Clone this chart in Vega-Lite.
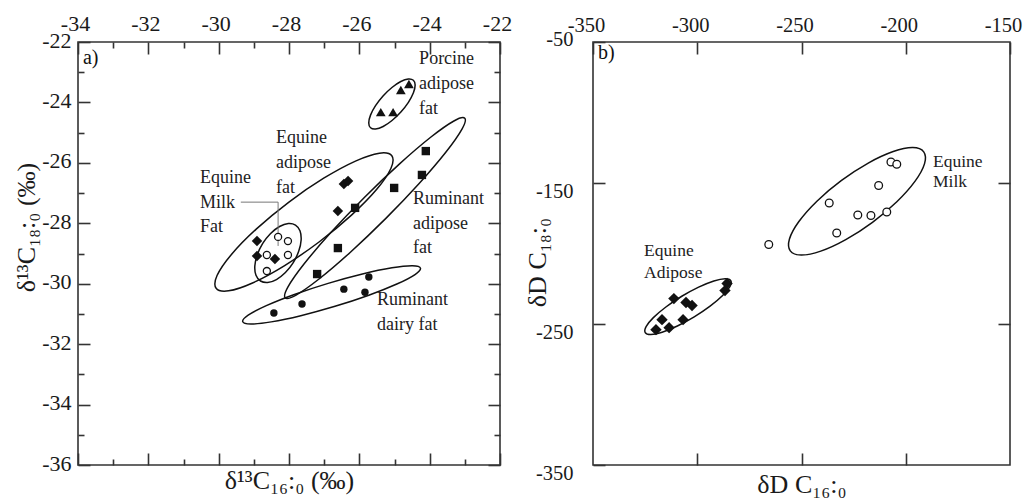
{
  "$schema": "https://vega.github.io/schema/vega-lite/v6.json",
  "padding": {"left": 12, "top": 11, "right": 5, "bottom": 5},
  "background": "white",
  "spacing": 93,
  "bounds": "flush",
  "config": {
    "view": {"stroke": "#333", "strokeWidth": 1.6},
    "axis": {"domain": false, "grid": false, "labelFont": "Liberation Serif", "titleFont": "Liberation Serif", "labelColor": "#1a1a1a", "titleColor": "#1a1a1a", "tickColor": "#333", "tickWidth": 1.6, "titleFontWeight": "normal", "labelFontSize": 22, "titleFontSize": 26, "labelFlush": false, "labelOverlap": false, "labelBound": false},
    "text": {"font": "Liberation Serif"}
  },
  "datasets": {
    "a_pts": [
      {"g": "Porcine", "x": -25.39, "y": -24.32}, {"g": "Porcine", "x": -25.04, "y": -24.32}, {"g": "Porcine", "x": -24.82, "y": -23.59}, {"g": "Porcine", "x": -24.59, "y": -23.39},
      {"g": "Equine adipose", "x": -26.44, "y": -26.70}, {"g": "Equine adipose", "x": -26.32, "y": -26.60}, {"g": "Equine adipose", "x": -26.61, "y": -27.59}, {"g": "Equine adipose", "x": -28.91, "y": -28.59}, {"g": "Equine adipose", "x": -28.91, "y": -29.08}, {"g": "Equine adipose", "x": -28.40, "y": -29.18},
      {"g": "Equine milk", "x": -28.31, "y": -28.45}, {"g": "Equine milk", "x": -28.03, "y": -28.59}, {"g": "Equine milk", "x": -28.63, "y": -29.05}, {"g": "Equine milk", "x": -28.03, "y": -29.05}, {"g": "Equine milk", "x": -28.63, "y": -29.58},
      {"g": "Ruminant adipose", "x": -26.12, "y": -27.49}, {"g": "Ruminant adipose", "x": -26.61, "y": -28.82}, {"g": "Ruminant adipose", "x": -27.20, "y": -29.68}, {"g": "Ruminant adipose", "x": -25.01, "y": -26.83}, {"g": "Ruminant adipose", "x": -24.22, "y": -26.40}, {"g": "Ruminant adipose", "x": -24.11, "y": -25.61},
      {"g": "Ruminant dairy", "x": -25.73, "y": -29.78}, {"g": "Ruminant dairy", "x": -26.44, "y": -30.18}, {"g": "Ruminant dairy", "x": -25.84, "y": -30.28}, {"g": "Ruminant dairy", "x": -27.63, "y": -30.67}, {"g": "Ruminant dairy", "x": -28.43, "y": -30.97}
    ],
    "a_ell": [
      {"e": "P", "i": 0, "x": -24.463, "y": -23.265}, {"e": "P", "i": 1, "x": -24.413, "y": -23.426}, {"e": "P", "i": 2, "x": -24.462, "y": -23.683}, {"e": "P", "i": 3, "x": -24.605, "y": -23.996},
      {"e": "P", "i": 4, "x": -24.819, "y": -24.318}, {"e": "P", "i": 5, "x": -25.071, "y": -24.599}, {"e": "P", "i": 6, "x": -25.323, "y": -24.797}, {"e": "P", "i": 7, "x": -25.538, "y": -24.881},
      {"e": "P", "i": 8, "x": -25.681, "y": -24.839}, {"e": "P", "i": 9, "x": -25.732, "y": -24.678}, {"e": "P", "i": 10, "x": -25.682, "y": -24.421}, {"e": "P", "i": 11, "x": -25.539, "y": -24.108},
      {"e": "P", "i": 12, "x": -25.326, "y": -23.786}, {"e": "P", "i": 13, "x": -25.073, "y": -23.505}, {"e": "P", "i": 14, "x": -24.821, "y": -23.307}, {"e": "P", "i": 15, "x": -24.607, "y": -23.223},
      {"e": "EA", "i": 0, "x": -25.076, "y": -25.767}, {"e": "EA", "i": 1, "x": -25.103, "y": -26.186}, {"e": "EA", "i": 2, "x": -25.505, "y": -26.876}, {"e": "EA", "i": 3, "x": -26.223, "y": -27.730},
      {"e": "EA", "i": 4, "x": -27.146, "y": -28.619}, {"e": "EA", "i": 5, "x": -28.135, "y": -29.407}, {"e": "EA", "i": 6, "x": -29.038, "y": -29.975}, {"e": "EA", "i": 7, "x": -29.718, "y": -30.235},
      {"e": "EA", "i": 8, "x": -30.072, "y": -30.149}, {"e": "EA", "i": 9, "x": -30.046, "y": -29.730}, {"e": "EA", "i": 10, "x": -29.643, "y": -29.040}, {"e": "EA", "i": 11, "x": -28.925, "y": -28.186},
      {"e": "EA", "i": 12, "x": -28.002, "y": -27.297}, {"e": "EA", "i": 13, "x": -27.013, "y": -26.509}, {"e": "EA", "i": 14, "x": -26.110, "y": -25.941}, {"e": "EA", "i": 15, "x": -25.430, "y": -25.681},
      {"e": "EM", "i": 0, "x": -27.816, "y": -28.058}, {"e": "EM", "i": 1, "x": -27.688, "y": -28.249}, {"e": "EM", "i": 2, "x": -27.655, "y": -28.552}, {"e": "EM", "i": 3, "x": -27.722, "y": -28.921},
      {"e": "EM", "i": 4, "x": -27.879, "y": -29.300}, {"e": "EM", "i": 5, "x": -28.102, "y": -29.630}, {"e": "EM", "i": 6, "x": -28.358, "y": -29.862}, {"e": "EM", "i": 7, "x": -28.606, "y": -29.961},
      {"e": "EM", "i": 8, "x": -28.810, "y": -29.910}, {"e": "EM", "i": 9, "x": -28.939, "y": -29.719}, {"e": "EM", "i": 10, "x": -28.972, "y": -29.416}, {"e": "EM", "i": 11, "x": -28.904, "y": -29.047},
      {"e": "EM", "i": 12, "x": -28.747, "y": -28.668}, {"e": "EM", "i": 13, "x": -28.524, "y": -28.338}, {"e": "EM", "i": 14, "x": -28.268, "y": -28.106}, {"e": "EM", "i": 15, "x": -28.020, "y": -28.007},
      {"e": "RA", "i": 0, "x": -23.002, "y": -24.523}, {"e": "RA", "i": 1, "x": -23.081, "y": -24.883}, {"e": "RA", "i": 2, "x": -23.536, "y": -25.641}, {"e": "RA", "i": 3, "x": -24.299, "y": -26.682},
      {"e": "RA", "i": 4, "x": -25.253, "y": -27.846}, {"e": "RA", "i": 5, "x": -26.254, "y": -28.957}, {"e": "RA", "i": 6, "x": -27.147, "y": -29.845}, {"e": "RA", "i": 7, "x": -27.799, "y": -30.376},
      {"e": "RA", "i": 8, "x": -28.108, "y": -30.468}, {"e": "RA", "i": 9, "x": -28.029, "y": -30.107}, {"e": "RA", "i": 10, "x": -27.574, "y": -29.349}, {"e": "RA", "i": 11, "x": -26.811, "y": -28.308},
      {"e": "RA", "i": 12, "x": -25.857, "y": -27.144}, {"e": "RA", "i": 13, "x": -24.856, "y": -26.033}, {"e": "RA", "i": 14, "x": -23.963, "y": -25.145}, {"e": "RA", "i": 15, "x": -23.311, "y": -24.614},
      {"e": "RD", "i": 0, "x": -24.262, "y": -29.483}, {"e": "RD", "i": 1, "x": -24.417, "y": -29.696}, {"e": "RD", "i": 2, "x": -24.933, "y": -30.011}, {"e": "RD", "i": 3, "x": -25.731, "y": -30.381},
      {"e": "RD", "i": 4, "x": -26.691, "y": -30.748}, {"e": "RD", "i": 5, "x": -27.665, "y": -31.058}, {"e": "RD", "i": 6, "x": -28.506, "y": -31.263}, {"e": "RD", "i": 7, "x": -29.086, "y": -31.332},
      {"e": "RD", "i": 8, "x": -29.316, "y": -31.254}, {"e": "RD", "i": 9, "x": -29.161, "y": -31.041}, {"e": "RD", "i": 10, "x": -28.645, "y": -30.725}, {"e": "RD", "i": 11, "x": -27.847, "y": -30.355},
      {"e": "RD", "i": 12, "x": -26.887, "y": -29.988}, {"e": "RD", "i": 13, "x": -25.913, "y": -29.678}, {"e": "RD", "i": 14, "x": -25.072, "y": -29.473}, {"e": "RD", "i": 15, "x": -24.492, "y": -29.405}
    ],
    "a_lead": [
      {"i": 0, "x": -29.37, "y": -27.30}, {"i": 1, "x": -28.31, "y": -27.30}, {"i": 2, "x": -28.31, "y": -28.75}
    ],
    "a_txt": [
      {"k": "panel", "x": -33.86, "y": -22.53, "t": "a)"},
      {"k": "note", "x": -24.30, "y": -22.56, "t": "Porcine"}, {"k": "note", "x": -24.30, "y": -23.39, "t": "adipose"}, {"k": "note", "x": -24.30, "y": -24.22, "t": "fat"},
      {"k": "note", "x": -28.37, "y": -25.18, "t": "Equine"}, {"k": "note", "x": -28.37, "y": -26.01, "t": "adipose"}, {"k": "note", "x": -28.37, "y": -26.83, "t": "fat"},
      {"k": "note", "x": -30.53, "y": -26.50, "t": "Equine"}, {"k": "note", "x": -30.53, "y": -27.33, "t": "Milk"}, {"k": "note", "x": -30.53, "y": -28.12, "t": "Fat"},
      {"k": "note", "x": -24.475, "y": -27.20, "t": "Ruminant"}, {"k": "note", "x": -24.475, "y": -28.02, "t": "adipose"}, {"k": "note", "x": -24.475, "y": -28.82, "t": "fat"},
      {"k": "note", "x": -25.50, "y": -30.54, "t": "Ruminant"}, {"k": "note", "x": -25.50, "y": -31.37, "t": "dairy fat"}
    ],
    "b_pts": [
      {"g": "Equine milk", "x": -207.1, "y": -135.1}, {"g": "Equine milk", "x": -204.3, "y": -136.7}, {"g": "Equine milk", "x": -213.0, "y": -151.8},
      {"g": "Equine milk", "x": -236.7, "y": -164.2}, {"g": "Equine milk", "x": -223.0, "y": -172.7}, {"g": "Equine milk", "x": -216.7, "y": -173.0},
      {"g": "Equine milk", "x": -209.1, "y": -170.6}, {"g": "Equine milk", "x": -233.1, "y": -185.5}, {"g": "Equine milk", "x": -265.7, "y": -193.6},
      {"g": "Equine adipose", "x": -285.7, "y": -221.3}, {"g": "Equine adipose", "x": -286.7, "y": -226.3}, {"g": "Equine adipose", "x": -311.2, "y": -232.0},
      {"g": "Equine adipose", "x": -305.4, "y": -234.8}, {"g": "Equine adipose", "x": -302.5, "y": -236.9}, {"g": "Equine adipose", "x": -306.8, "y": -246.9},
      {"g": "Equine adipose", "x": -316.9, "y": -246.9}, {"g": "Equine adipose", "x": -313.5, "y": -252.6}, {"g": "Equine adipose", "x": -319.8, "y": -254.0}
    ],
    "b_ell": [
      {"e": "M", "i": 0, "x": -191.38, "y": -127.92}, {"e": "M", "i": 1, "x": -190.98, "y": -136.28}, {"e": "M", "i": 2, "x": -195.51, "y": -148.70}, {"e": "M", "i": 3, "x": -204.28, "y": -163.31},
      {"e": "M", "i": 4, "x": -215.96, "y": -177.87}, {"e": "M", "i": 5, "x": -228.77, "y": -190.16}, {"e": "M", "i": 6, "x": -240.76, "y": -198.33}, {"e": "M", "i": 7, "x": -250.11, "y": -201.11},
      {"e": "M", "i": 8, "x": -255.38, "y": -198.10}, {"e": "M", "i": 9, "x": -255.78, "y": -189.74}, {"e": "M", "i": 10, "x": -251.25, "y": -177.32}, {"e": "M", "i": 11, "x": -242.48, "y": -162.71},
      {"e": "M", "i": 12, "x": -230.80, "y": -148.16}, {"e": "M", "i": 13, "x": -217.99, "y": -135.86}, {"e": "M", "i": 14, "x": -206.00, "y": -127.70}, {"e": "M", "i": 15, "x": -196.65, "y": -124.91},
      {"e": "A", "i": 0, "x": -283.93, "y": -219.22}, {"e": "A", "i": 1, "x": -284.35, "y": -223.42}, {"e": "A", "i": 2, "x": -287.83, "y": -229.77}, {"e": "A", "i": 3, "x": -293.84, "y": -237.33},
      {"e": "A", "i": 4, "x": -301.46, "y": -244.93}, {"e": "A", "i": 5, "x": -309.54, "y": -251.42}, {"e": "A", "i": 6, "x": -316.84, "y": -255.81}, {"e": "A", "i": 7, "x": -322.25, "y": -257.43},
      {"e": "A", "i": 8, "x": -324.95, "y": -256.04}, {"e": "A", "i": 9, "x": -324.53, "y": -251.85}, {"e": "A", "i": 10, "x": -321.05, "y": -245.49}, {"e": "A", "i": 11, "x": -315.04, "y": -237.93},
      {"e": "A", "i": 12, "x": -307.42, "y": -230.33}, {"e": "A", "i": 13, "x": -299.34, "y": -223.84}, {"e": "A", "i": 14, "x": -292.04, "y": -219.46}, {"e": "A", "i": 15, "x": -286.63, "y": -217.83}
    ],
    "b_txt": [
      {"k": "panel", "x": -347.6, "y": -57.8, "t": "b)"},
      {"k": "note", "x": -186.9, "y": -135.3, "t": "Equine"}, {"k": "note", "x": -186.9, "y": -149.5, "t": "Milk"},
      {"k": "note", "x": -325.5, "y": -198.5, "t": "Equine"}, {"k": "note", "x": -325.5, "y": -213.5, "t": "Adipose"}
    ]
  },
  "hconcat": [
    {
      "width": 422,
      "height": 423,
      "resolve": {"axis": {"x": "independent", "y": "independent"}},
      "layer": [
        {
          "data": {"name": "a_ell"},
          "mark": {"type": "line", "interpolate": "cardinal-closed", "color": "#111", "strokeWidth": 1.5},
          "encoding": {
            "x": {"field": "x", "type": "quantitative", "scale": {"domain": [-34, -22], "nice": false, "zero": false},
                  "axis": {"orient": "top", "values": [-33, -31, -29, -27, -25, -23], "tickSize": -6, "labels": false, "title": null}},
            "y": {"field": "y", "type": "quantitative", "scale": {"domain": [-36, -22], "nice": false, "zero": false},
                  "axis": {"orient": "left", "values": [-35, -33, -31, -29, -27, -25, -23], "tickSize": -6, "labels": false, "title": null}},
            "detail": {"field": "e"},
            "order": {"field": "i", "type": "quantitative"}
          }
        },
        {
          "data": {"name": "a_lead"},
          "mark": {"type": "line", "color": "#777", "strokeWidth": 1},
          "encoding": {
            "x": {"field": "x", "type": "quantitative",
                  "axis": {"orient": "bottom", "values": [-33, -31, -29, -27, -25, -23], "tickSize": -6, "labels": false, "title": null}},
            "y": {"field": "y", "type": "quantitative",
                  "axis": {"orient": "right", "values": [-35, -33, -31, -29, -27, -25, -23], "tickSize": -6, "labels": false, "title": null}},
            "order": {"field": "i", "type": "quantitative"}
          }
        },
        {
          "data": {"name": "a_pts"},
          "transform": [{"filter": "datum.g == 'Porcine'"}],
          "mark": {"type": "point", "shape": "triangle-up", "filled": true, "size": 95, "color": "#111", "opacity": 1},
          "encoding": {
            "x": {"field": "x", "type": "quantitative",
                  "axis": {"orient": "top", "values": [-34, -32, -30, -28, -26, -24, -22], "tickSize": -12, "labelPadding": 19, "labelOffset": -3,
                           "labelExpr": "replace(datum.label, '−', '-')", "title": null}},
            "y": {"field": "y", "type": "quantitative",
                  "axis": {"orient": "left", "values": [-36, -34, -32, -30, -28, -26, -24, -22], "tickSize": -12, "labelPadding": 19, "labelOffset": -2,
                           "labelExpr": "replace(datum.label, '−', '-')",
                           "title": "δ¹³C₁₈:₀ (‰)", "titleX": -52, "titleY": 185, "titleAngle": 270, "titleAlign": "center", "titleBaseline": "middle"}}
          }
        },
        {
          "data": {"name": "a_pts"},
          "transform": [{"filter": "datum.g == 'Equine adipose'"}],
          "mark": {"type": "point", "shape": "diamond", "filled": true, "size": 110, "color": "#111", "opacity": 1},
          "encoding": {
            "x": {"field": "x", "type": "quantitative",
                  "axis": {"orient": "bottom", "values": [-34, -32, -30, -28, -26, -24, -22], "tickSize": -12, "labels": false, "title": "δ¹³C₁₆:₀ (‰)", "titlePadding": 2}},
            "y": {"field": "y", "type": "quantitative",
                  "axis": {"orient": "right", "values": [-36, -34, -32, -30, -28, -26, -24, -22], "tickSize": -12, "labels": false, "title": null}}
          }
        },
        {
          "data": {"name": "a_pts"},
          "transform": [{"filter": "datum.g == 'Ruminant adipose'"}],
          "mark": {"type": "point", "shape": "square", "filled": true, "size": 70, "color": "#111", "opacity": 1},
          "encoding": {
            "x": {"field": "x", "type": "quantitative", "axis": null},
            "y": {"field": "y", "type": "quantitative", "axis": null}
          }
        },
        {
          "data": {"name": "a_pts"},
          "transform": [{"filter": "datum.g == 'Ruminant dairy'"}],
          "mark": {"type": "point", "shape": "circle", "filled": true, "size": 55, "color": "#111", "opacity": 1},
          "encoding": {
            "x": {"field": "x", "type": "quantitative", "axis": null},
            "y": {"field": "y", "type": "quantitative", "axis": null}
          }
        },
        {
          "data": {"name": "a_pts"},
          "transform": [{"filter": "datum.g == 'Equine milk'"}],
          "mark": {"type": "point", "shape": "circle", "filled": true, "size": 50, "fill": "white", "stroke": "#111", "strokeWidth": 1.3, "opacity": 1},
          "encoding": {
            "x": {"field": "x", "type": "quantitative", "axis": null},
            "y": {"field": "y", "type": "quantitative", "axis": null}
          }
        },
        {
          "data": {"name": "a_txt"},
          "transform": [{"filter": "datum.k == 'note'"}],
          "mark": {"type": "text", "align": "left", "baseline": "middle", "fontSize": 18, "color": "#222", "font": "Liberation Serif"},
          "encoding": {
            "x": {"field": "x", "type": "quantitative", "axis": null},
            "y": {"field": "y", "type": "quantitative", "axis": null},
            "text": {"field": "t"}
          }
        },
        {
          "data": {"name": "a_txt"},
          "transform": [{"filter": "datum.k == 'panel'"}],
          "mark": {"type": "text", "align": "left", "baseline": "middle", "fontSize": 20, "color": "#111", "font": "Liberation Serif"},
          "encoding": {
            "x": {"field": "x", "type": "quantitative", "axis": null},
            "y": {"field": "y", "type": "quantitative", "axis": null},
            "text": {"field": "t"}
          }
        }
      ]
    },
    {
      "width": 417,
      "height": 423,
      "resolve": {"axis": {"x": "independent", "y": "independent"}},
      "layer": [
        {
          "data": {"name": "b_ell"},
          "mark": {"type": "line", "interpolate": "cardinal-closed", "color": "#111", "strokeWidth": 1.5},
          "encoding": {
            "x": {"field": "x", "type": "quantitative", "scale": {"domain": [-350, -150], "nice": false, "zero": false}, "axis": null},
            "y": {"field": "y", "type": "quantitative", "scale": {"domain": [-350, -50], "nice": false, "zero": false}, "axis": null},
            "detail": {"field": "e"},
            "order": {"field": "i", "type": "quantitative"}
          }
        },
        {
          "data": {"name": "b_pts"},
          "transform": [{"filter": "datum.g == 'Equine adipose'"}],
          "mark": {"type": "point", "shape": "diamond", "filled": true, "size": 130, "color": "#111", "opacity": 1},
          "encoding": {
            "x": {"field": "x", "type": "quantitative",
                  "axis": {"orient": "top", "values": [-350, -300, -250, -200, -150], "tickSize": -12, "labelPadding": 19, "labelFontSize": 20.5, "labelOffset": -7,
                           "labelExpr": "replace(datum.label, '−', '-')", "title": null}},
            "y": {"field": "y", "type": "quantitative",
                  "axis": {"orient": "left", "values": [-350, -250, -150, -50], "tickSize": -12, "labelPadding": 32, "labelFontSize": 20.5,
                           "labelOffset": {"expr": "datum.value == -50 ? -3 : 8"},
                           "labelExpr": "replace(datum.label, '−', '-')",
                           "title": "δD C₁₈:₀", "titleX": -56, "titleY": 220, "titleAngle": 270, "titleAlign": "center", "titleBaseline": "middle"}}
          }
        },
        {
          "data": {"name": "b_pts"},
          "transform": [{"filter": "datum.g == 'Equine milk'"}],
          "mark": {"type": "point", "shape": "circle", "filled": true, "size": 60, "fill": "white", "stroke": "#111", "strokeWidth": 1.3, "opacity": 1},
          "encoding": {
            "x": {"field": "x", "type": "quantitative",
                  "axis": {"orient": "bottom", "values": [-300, -250, -200], "tickSize": -12, "labels": false, "title": "δD C₁₆:₀", "titlePadding": 6}},
            "y": {"field": "y", "type": "quantitative",
                  "axis": {"orient": "right", "values": [-250, -150], "tickSize": -12, "labels": false, "title": null}}
          }
        },
        {
          "data": {"name": "b_txt"},
          "transform": [{"filter": "datum.k == 'note'"}],
          "mark": {"type": "text", "align": "left", "baseline": "middle", "fontSize": 17.5, "color": "#222", "font": "Liberation Serif"},
          "encoding": {
            "x": {"field": "x", "type": "quantitative", "axis": null},
            "y": {"field": "y", "type": "quantitative", "axis": null},
            "text": {"field": "t"}
          }
        },
        {
          "data": {"name": "b_txt"},
          "transform": [{"filter": "datum.k == 'panel'"}],
          "mark": {"type": "text", "align": "left", "baseline": "middle", "fontSize": 20, "color": "#111", "font": "Liberation Serif"},
          "encoding": {
            "x": {"field": "x", "type": "quantitative", "axis": null},
            "y": {"field": "y", "type": "quantitative", "axis": null},
            "text": {"field": "t"}
          }
        }
      ]
    }
  ]
}
